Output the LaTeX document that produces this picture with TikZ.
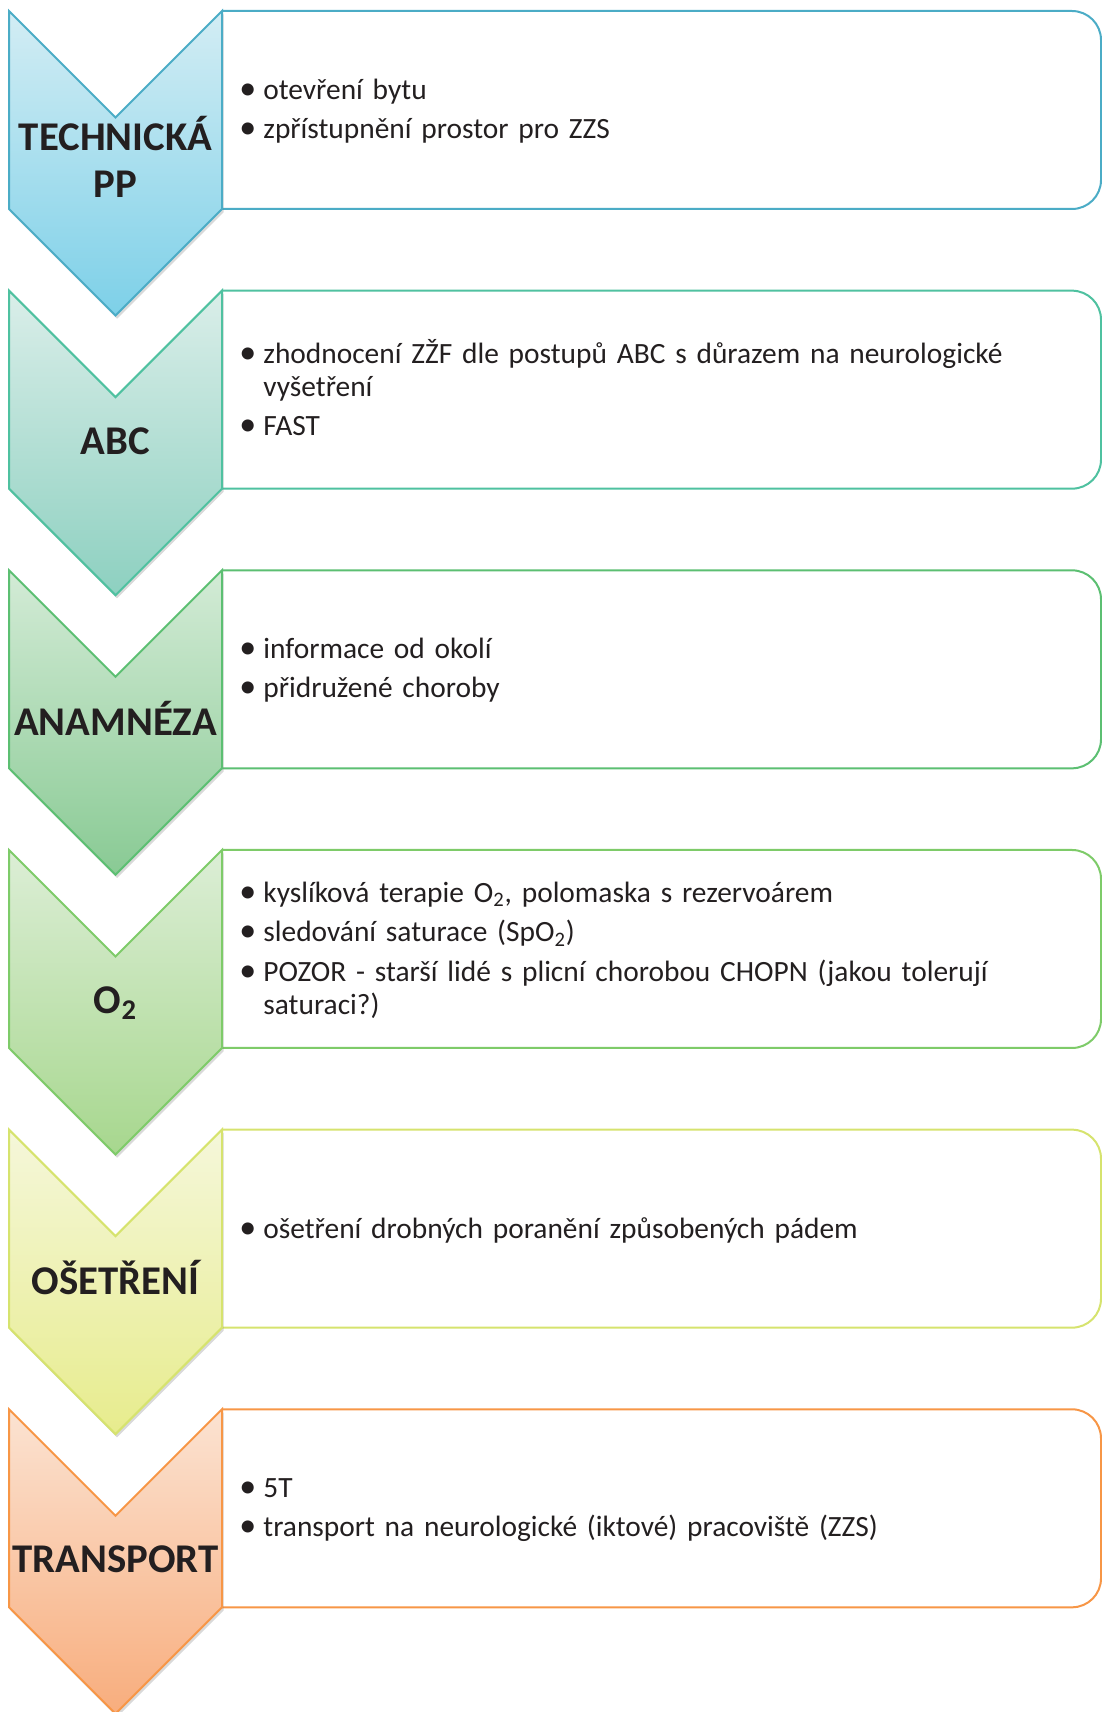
\documentclass[tikz,border=0pt]{standalone}
\usepackage{fontspec}
\setmainfont{Carlito}
\usepackage{xcolor}
\definecolor{TextDark}{HTML}{231F20}
% border / top / bottom colour of each stage
\definecolor{techLine}{HTML}{4BACC6}\definecolor{techTop}{HTML}{D3EDF4}\definecolor{techBot}{HTML}{7DD0E8}
\definecolor{abcLine}{HTML}{4FC1A0}\definecolor{abcTop}{HTML}{DAEEE9}\definecolor{abcBot}{HTML}{8DD0C0}
\definecolor{anamLine}{HTML}{5CBF72}\definecolor{anamTop}{HTML}{D3EBD6}\definecolor{anamBot}{HTML}{89CA94}
\definecolor{oxyLine}{HTML}{7ECB69}\definecolor{oxyTop}{HTML}{DCEED6}\definecolor{oxyBot}{HTML}{A7D78E}
\definecolor{careLine}{HTML}{D6E36E}\definecolor{careTop}{HTML}{F5F7DA}\definecolor{careBot}{HTML}{E7EC8D}
\definecolor{transLine}{HTML}{F79646}\definecolor{transTop}{HTML}{FBE3D2}\definecolor{transBot}{HTML}{F8AD7D}
\usepackage{tikz}
\usetikzlibrary{shadows}
\tikzset{
  chevron/.style={line width=1pt, line join=miter,
                  drop shadow={shadow xshift=0.8pt, shadow yshift=-1.6pt, opacity=0.3}},
  boxline/.style={line width=1pt, fill=white},
  stglabel/.style={font=\bfseries\fontsize{20.4}{23.5}\selectfont, text=TextDark, align=center, inner sep=0pt},
  stgtext/.style={font=\fontsize{14.7}{16.4}\selectfont, text=TextDark, align=left,
                  text width=407pt, inner sep=0pt, anchor=west}
}
\hyphenpenalty=10000
% one bullet paragraph, wrapped lines hang under the text
\newcommand{\itm}[1]{\par\hangindent=12pt\hangafter=1\noindent
  \makebox[12pt][l]{\fontsize{17}{17}\selectfont\textbullet}#1\par}
\newcommand{\gap}{\vspace{3.25pt}}

\begin{document}
\begin{tikzpicture}[x=0.5pt, y=-0.5pt]
\useasboundingbox (0,0) rectangle (1102,1712);

% box on the right, then the chevron over its left side
\foreach \col [count=\i from 0] in {tech,abc,anam,oxy,care,trans}{
  \pgfmathsetmacro{\t}{11+279.66*\i}
  \draw[boxline, draw=\col Line] (222,\t) -- (1072,\t) arc[start angle=90, end angle=0, radius=14.5pt]
        -- (1101,\t+169) arc[start angle=0, end angle=-90, radius=14.5pt] -- (222,\t+198);
  \path[chevron, draw=\col Line, top color=\col Top, bottom color=\col Bot]
        (9,\t) -- (115.5,\t+106.5) -- (222,\t) -- (222,\t+198) -- (115.5,\t+304.5) -- (9,\t+198) -- cycle;
}

\node[stglabel] (tech-lbl) at (115.5,157) {TECHNICKÁ\\PP};
\node[stglabel] (abc-lbl) at (115.5,441.5) {ABC};
\node[stglabel] (anam-lbl) at (115.5,718.5) {ANAMNÉZA};
\node[stglabel] (oxy-lbl) at (115.5,1003) {O\textsubscript{2}};
\node[stglabel] (care-lbl) at (115.5,1277.5) {OŠETŘENÍ};
\node[stglabel] (trans-lbl) at (115.5,1559) {TRANSPORT};

\node[stgtext] (tech-txt) at (239,105) {\itm{otevření bytu}\gap\itm{zpřístupnění prostor pro ZZS}};
\node[stgtext] (abc-txt) at (239,383) {\itm{zhodnocení ZŽF dle postupů ABC s důrazem na neurologické vyšetření}\gap\itm{FAST}};
\node[stgtext] (anam-txt) at (239,664) {\itm{informace od okolí}\gap\itm{přidružené choroby}};
\node[stgtext] (oxy-txt) at (239,944) {\itm{kyslíková terapie O\textsubscript{2}, polomaska s rezervoárem}\gap
  \itm{sledování saturace (SpO\textsubscript{2})}\gap
  \itm{POZOR - starší lidé s plicní chorobou CHOPN (jakou tolerují saturaci?)}};
\node[stgtext] (care-txt) at (239,1224) {\itm{ošetření drobných poranění způsobených pádem}};
\node[stgtext] (trans-txt) at (239,1503) {\itm{5T}\gap\itm{transport na neurologické (iktové) pracoviště (ZZS)}};
\end{tikzpicture}
\end{document}
